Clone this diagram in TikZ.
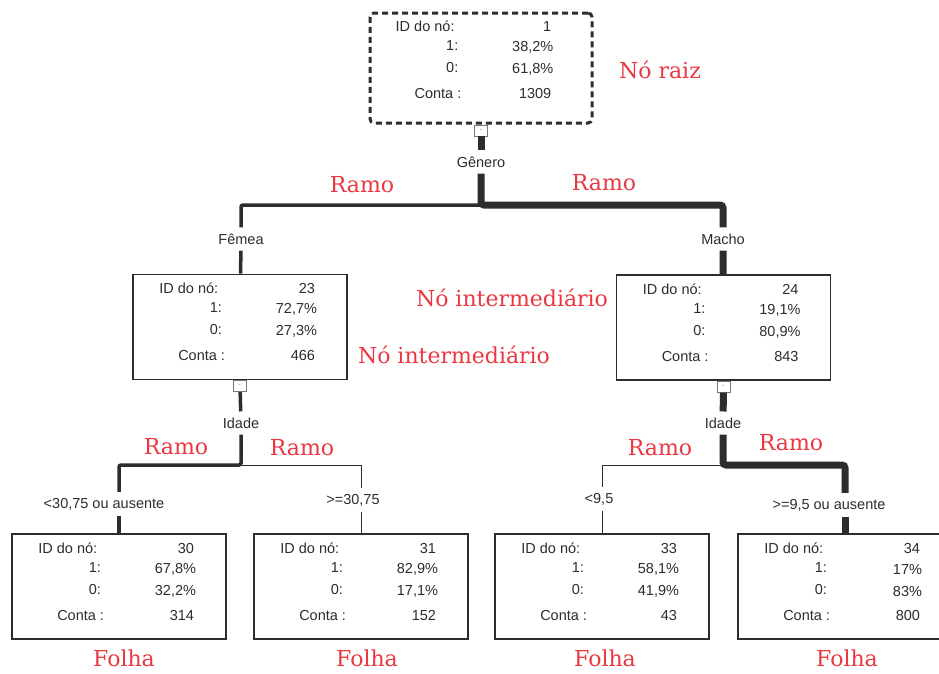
\documentclass[tikz,border=0pt]{standalone}
\usepackage{fontspec}
\setmainfont{Liberation Sans}
\newfontfamily\tagfont{DejaVu Serif}
\usepackage{xcolor}
\usepackage{tikz}
\definecolor{treered}{RGB}{234, 56, 66}
\definecolor{treegray}{RGB}{45, 45, 45}
\definecolor{togglegray}{RGB}{120, 120, 120}

\newcommand{\boxtext}[5]{%
  \path (#1.north west) ++(27,15) node[txt, anchor=west] {ID do nó:};
  \path (#1.north west) ++(183,15) node[txt, anchor=east] {#2};
  \path (#1.north west) ++(90,34) node[txt, anchor=east] {1:};
  \path (#1.north west) ++(185,36) node[txt, anchor=east] {#3};
  \path (#1.north west) ++(90,56) node[txt, anchor=east] {0:};
  \path (#1.north west) ++(185,58) node[txt, anchor=east] {#4};
  \path (#1.north west) ++(93,82) node[txt, anchor=east] {Conta :};
  \path (#1.north west) ++(183,82) node[txt, anchor=east] {#5};
}

\begin{document}
\begin{tikzpicture}[x=1pt, y=-1pt,
  infobox/.style={draw=treegray, line width=1.6pt, minimum width=214pt, minimum height=105pt, inner sep=0pt},
  rootbox/.style={draw=treegray, line width=3pt, dash pattern=on 6pt off 4pt, rounded corners=4pt, minimum width=222pt, minimum height=110pt, inner sep=0pt},
  txt/.style={inner sep=0pt, text=treegray, font=\fontsize{14.5}{16}\selectfont},
  lbl/.style={inner xsep=2pt, inner ysep=6pt, text=treegray, font=\fontsize{14.5}{16}\selectfont},
  toggle/.style={draw=togglegray, fill=white, line width=0.8pt, minimum width=13pt, minimum height=11pt, inner sep=0pt, font=\tiny},
  tag/.style={text=treered, font=\tagfont\fontsize{22}{24}\selectfont},
  lightbr/.style={draw=treegray, line width=1pt},
  midbr/.style={draw=treegray, line width=3.5pt, rounded corners=2pt},
  heavybr/.style={draw=treegray, line width=7pt, rounded corners=3pt}]

\fill[white] (0,0) rectangle (939,673);
\useasboundingbox (0,0) rectangle (939,673);

% root
\node[rootbox] (n1) at (481,68) {};
\boxtext{n1}{1}{38,2\%}{61,8\%}{1309}
\node[toggle, anchor=north] (t1) at (n1.south) {-};
\node[lbl] (gen) at (481,162) {Gênero};
\coordinate (j1) at (481,205);

% second level
\node[lbl] (fem) at (241,239) {Fêmea};
\node[lbl] (mac) at (723,239) {Macho};
\node[infobox] (n23) at (240,327) {};
\boxtext{n23}{23}{72,7\%}{27,3\%}{466}
\node[infobox] (n24) at (723.5,327.5) {};
\boxtext{n24}{24}{19,1\%}{80,9\%}{843}
\node[toggle, anchor=north] (t23) at (n23.south) {-};
\node[toggle, anchor=north] (t24) at (n24.south) {-};
\node[lbl] (id23) at (241,423) {Idade};
\node[lbl] (id24) at (723,423) {Idade};
\coordinate (j23) at (241,465);
\coordinate (j24) at (723,465);

% leaves
\node[lbl] (lt) at (104,504) {<30,75 ou ausente};
\node[lbl] (ge) at (353,500) {>=30,75};
\node[lbl] (lt2) at (599,499) {<9,5};
\node[lbl] (ge2) at (829,505) {>=9,5 ou ausente};
\node[infobox] (n30) at (119,586.5) {};
\boxtext{n30}{30}{67,8\%}{32,2\%}{314}
\node[infobox] (n31) at (361,586.5) {};
\boxtext{n31}{31}{82,9\%}{17,1\%}{152}
\node[infobox] (n33) at (602,586.5) {};
\boxtext{n33}{33}{58,1\%}{41,9\%}{43}
\node[infobox] (n34) at (845,586.5) {};
\boxtext{n34}{34}{17\%}{83\%}{800}

% branches
\draw[heavybr] (t1) -- (gen);
\draw[midbr] (j1) -| (fem);
\draw[heavybr] (gen) -- (j1) -| (mac);
\draw[midbr] (fem) -- (n23);
\draw[heavybr] (mac) -- (n24);

\draw[midbr] (t23) -- (id23);
\draw[lightbr] (j23) -| (ge.north -| n31.north);
\draw[midbr] (id23) -- (j23) -| (lt.north -| n30.north);
\draw[midbr] (lt.south -| n30.north) -- (n30);
\draw[lightbr] (ge.south -| n31.north) -- (n31);

\draw[heavybr] (t24) -- (id24);
\draw[lightbr] (j24) -| (lt2.north -| n33.north);
\draw[heavybr] (id24) -- (j24) -| (ge2.north -| n34.north);
\draw[heavybr] (ge2.south -| n34.north) -- (n34);
\draw[lightbr] (lt2.south -| n33.north) -- (n33);

% red tags
\node[tag] (raiz) at (660,70) {Nó raiz};
\node[tag] (mid1) at (512,298) {Nó intermediário};
\node[tag] (mid2) at (454,355) {Nó intermediário};
\node[tag] (r1) at (362,185) {Ramo};
\node[tag] (r2) at (604,183) {Ramo};
\node[tag] (r3) at (176,447) {Ramo};
\node[tag] (r4) at (302,448) {Ramo};
\node[tag] (r5) at (660,448) {Ramo};
\node[tag] (r6) at (791,443) {Ramo};
\node[tag] (f1) at (124,658) {Folha};
\node[tag] (f2) at (367,658) {Folha};
\node[tag] (f3) at (605,658) {Folha};
\node[tag] (f4) at (847,658) {Folha};
\end{tikzpicture}
\end{document}
